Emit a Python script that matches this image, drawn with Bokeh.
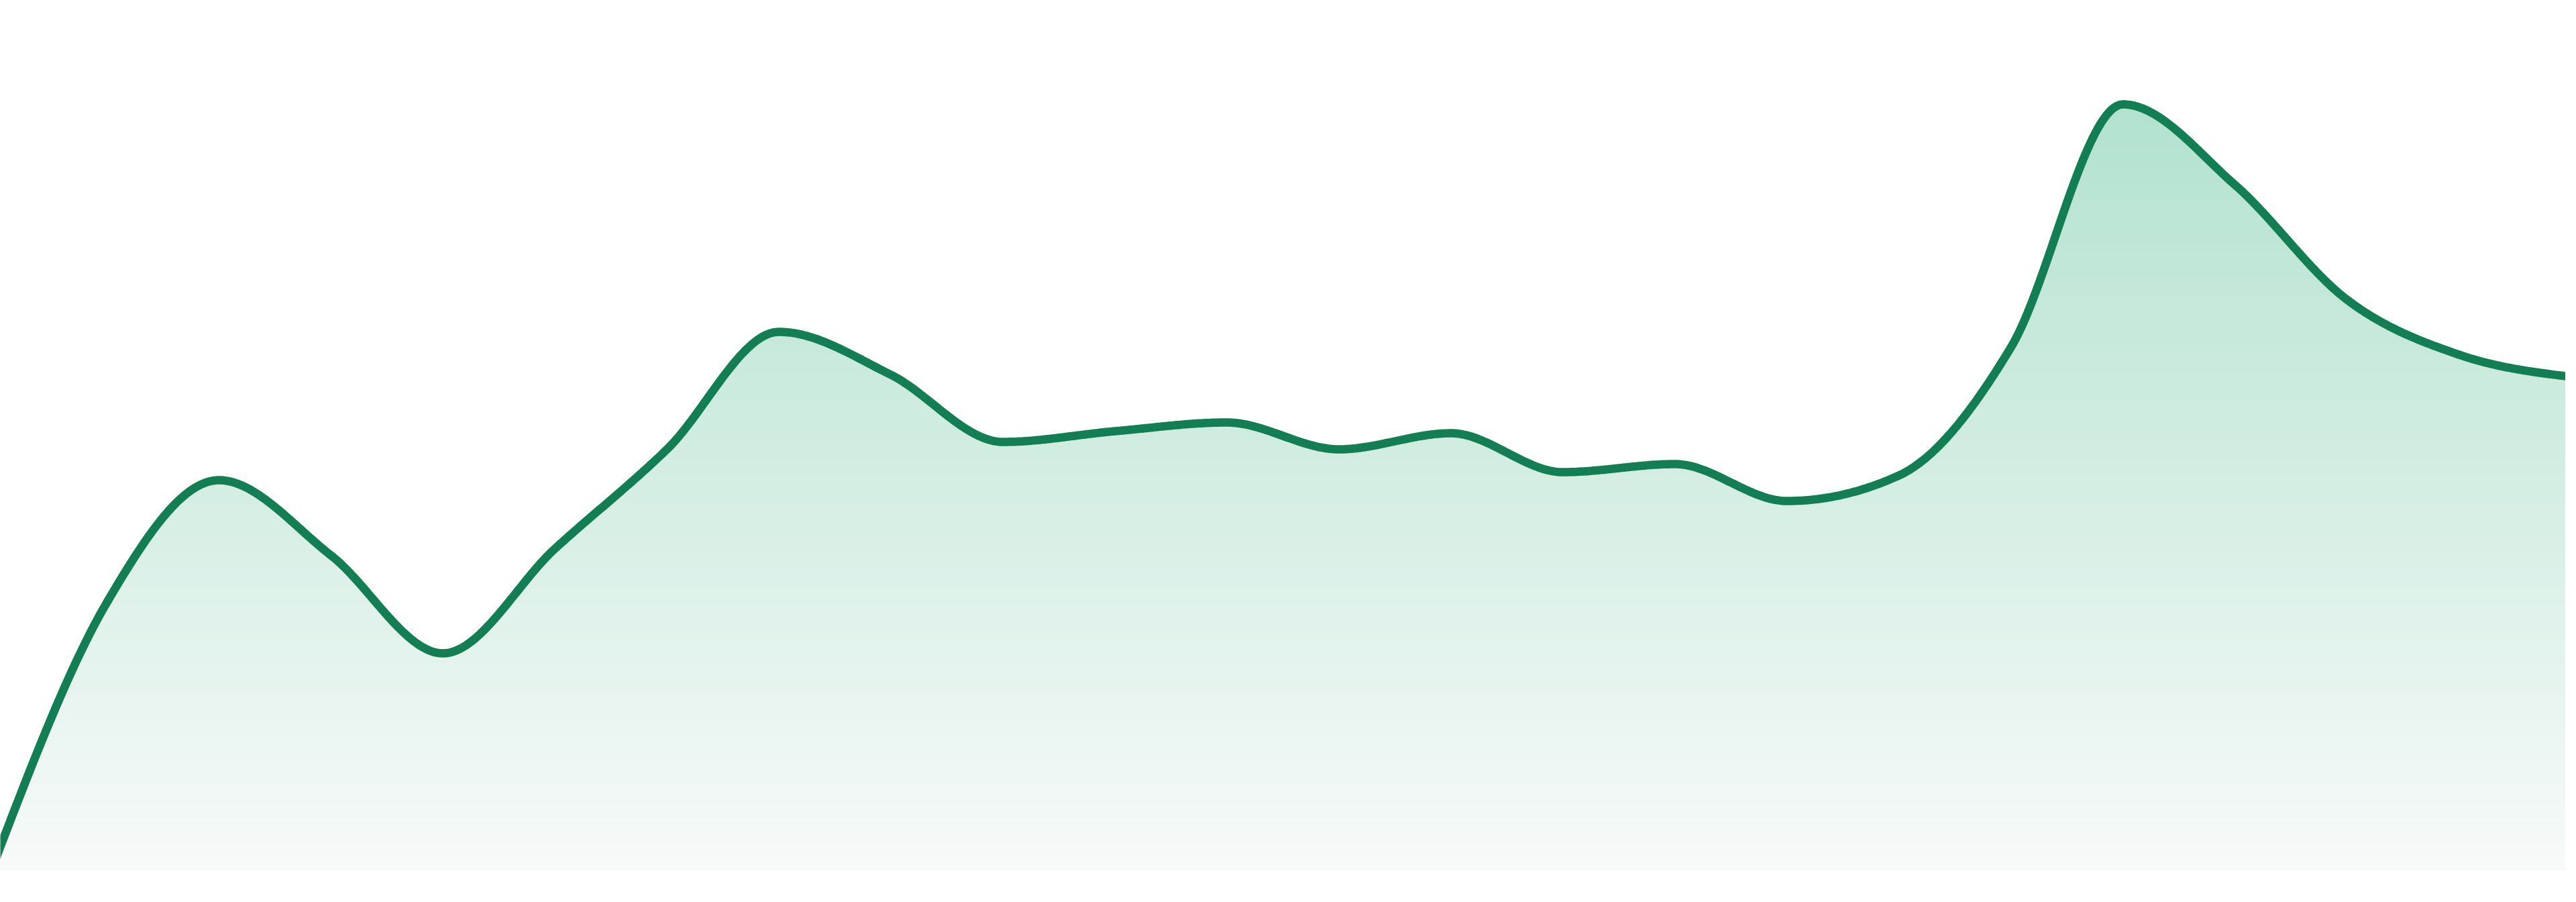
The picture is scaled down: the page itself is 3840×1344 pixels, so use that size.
import numpy as np
from bokeh.plotting import figure
from bokeh.models import Range1d
from bokeh.embed import file_html
from bokeh.resources import INLINE

# ---- data ----
periods = list(range(24))
values = [1.4, 39.9, 58.1, 46.9, 32.3, 47.9, 62.7, 80.2, 73.8, 63.8, 65.4, 66.7,
          62.7, 65.1, 59.3, 60.5, 55.0, 58.8, 77.9, 114.1, 102.1, 85.0, 76.8, 73.5]

LINE_COLOR = "#137d53"
TOP_RGB = (178, 226, 207)
BOTTOM_RGB = (247, 250, 249)


def monotone_x(x, y, n=48):
    """Monotone cubic (d3 curveMonotoneX style) rendering path through the data."""
    x = np.asarray(x, float)
    y = np.asarray(y, float)
    m = len(x)
    h = np.diff(x)
    s = np.diff(y) / h
    t = np.zeros(m)
    for i in range(1, m - 1):
        h0, h1, s0, s1 = h[i - 1], h[i], s[i - 1], s[i]
        p = (s0 * h1 + s1 * h0) / (h0 + h1)
        t[i] = (np.sign(s0) + np.sign(s1)) * min(abs(s0), abs(s1), 0.5 * abs(p))
    t[0] = (3 * s[0] - t[1]) / 2
    t[-1] = (3 * s[-1] - t[-2]) / 2
    xs, ys = [], []
    for i in range(m - 1):
        u = np.linspace(0, 1, n, endpoint=(i == m - 2))
        h00 = 2 * u**3 - 3 * u**2 + 1
        h10 = u**3 - 2 * u**2 + u
        h01 = -2 * u**3 + 3 * u**2
        h11 = u**3 - u**2
        xs.append(x[i] + u * h[i])
        ys.append(h00 * y[i] + h10 * h[i] * t[i] + h01 * y[i + 1] + h11 * h[i] * t[i + 1])
    return np.concatenate(xs), np.concatenate(ys)


xs, ys = monotone_x(periods, values)

W, H = 3824, 1328
step = 3840 / 23.0
p = figure(width=W, height=H, output_backend="svg", toolbar_location=None,
           x_range=Range1d(8 / step, (8 + W) / step),
           y_range=Range1d(-3.2, 129.6),
           min_border=0, min_border_left=0, min_border_right=0,
           min_border_top=0, min_border_bottom=0)
p.xaxis.visible = False
p.yaxis.visible = False
p.grid.visible = False
p.outline_line_color = None
p.background_fill_color = "white"
p.border_fill_color = "white"

# vertical gradient fill under the curve, built from stacked bands
top_v = max(values)
nb = 90
tops = np.linspace(top_v + 1.0, 0, nb, endpoint=False)
for tv in tops:
    mid = tv - (top_v + 1.0) / nb / 2
    frac = np.clip((top_v - mid) / top_v, 0, 1)
    rgb = tuple(int(round(a + (b - a) * frac)) for a, b in zip(TOP_RGB, BOTTOM_RGB))
    col = "#%02x%02x%02x" % rgb
    p.varea(x=xs, y1=np.zeros_like(ys), y2=np.minimum(ys, tv), fill_color=col, fill_alpha=1.0)

p.line(xs, ys, line_color=LINE_COLOR, line_width=12.5, line_join="round", line_cap="round")

open("out.html", "w").write(file_html(p, INLINE))
